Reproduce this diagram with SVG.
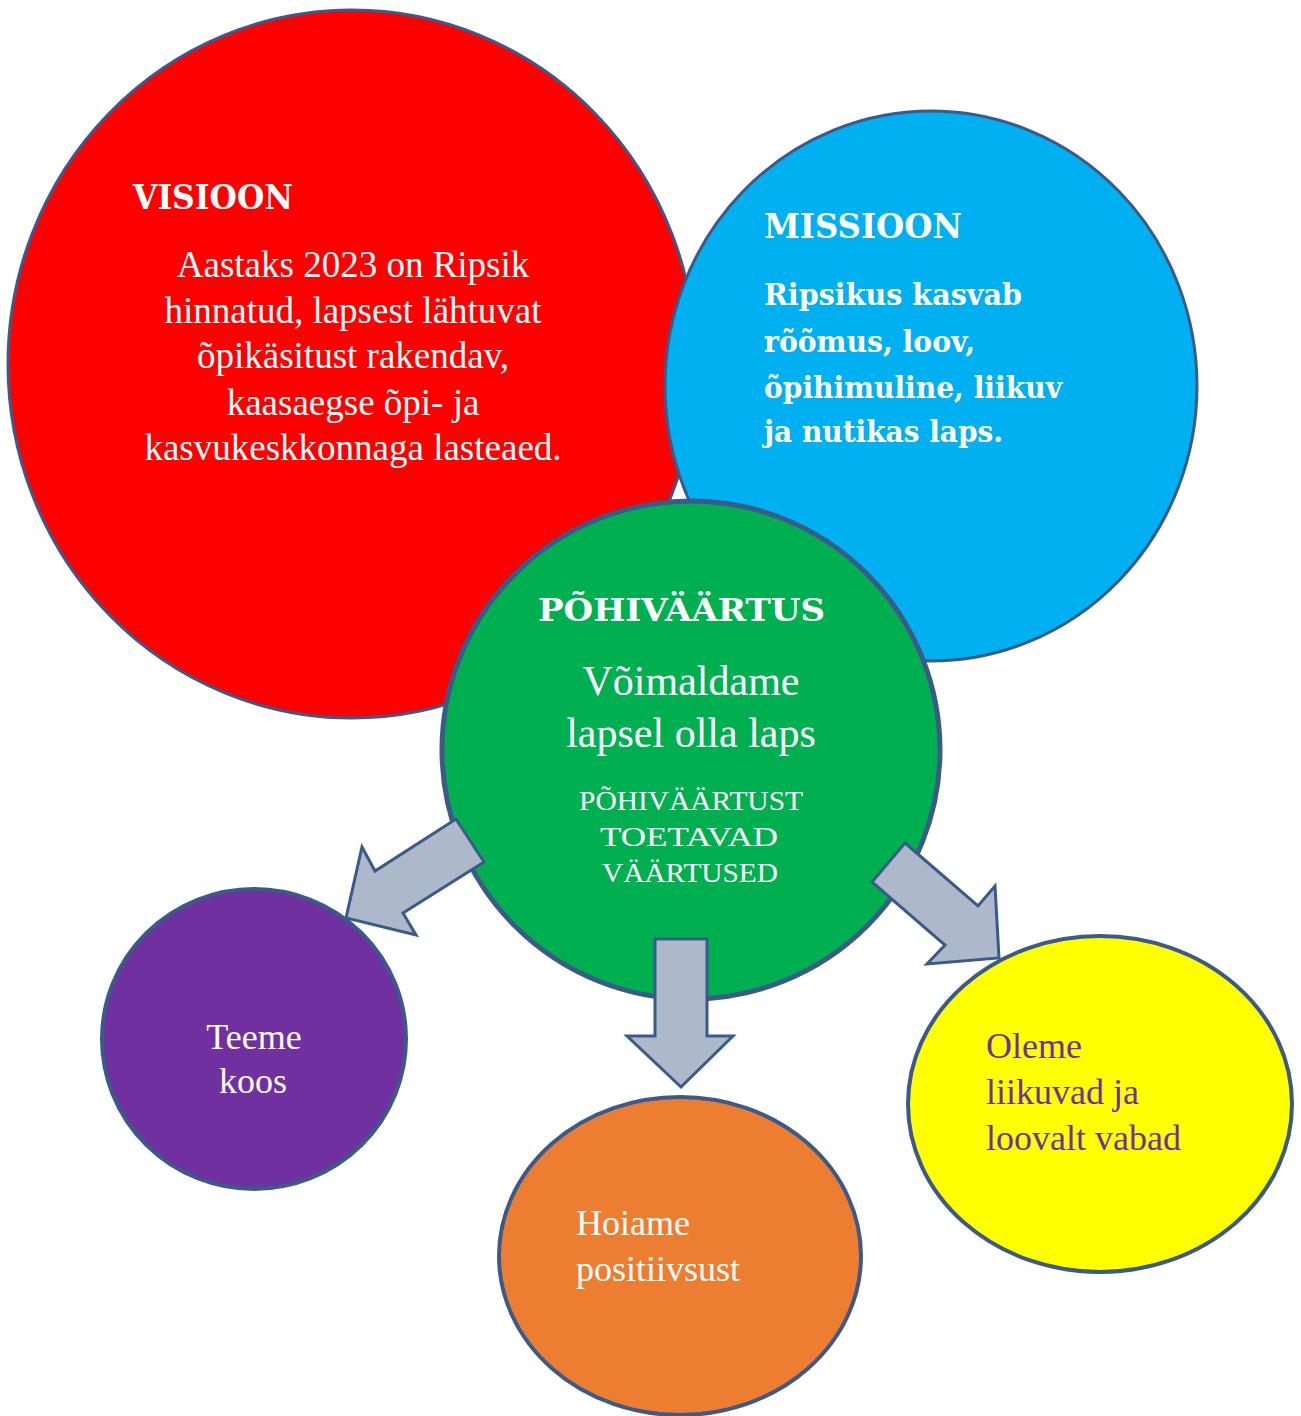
<svg xmlns="http://www.w3.org/2000/svg" width="1301" height="1416" viewBox="0 0 1301 1416">
<style>
.c{stroke:#3b5a8a;stroke-width:3}
.c4{stroke-width:4}
.c5{stroke-width:5}
.arr{fill:#adb9ca;stroke:#3b5a8a;stroke-width:3;stroke-linejoin:miter}
.h{font-family:"DejaVu Serif",serif;font-weight:bold;fill:#fff}
.t{font-family:"Liberation Serif","Times New Roman",serif;fill:#fff}
</style>
<rect width="1301" height="1416" fill="#fff"/>
<g id="visioon">
<ellipse class="c" cx="352" cy="364" rx="344" ry="354" fill="#ff0000"/>
<text class="h" x="133" y="209" font-size="33" textLength="160" lengthAdjust="spacingAndGlyphs">VISIOON</text>
<g class="t" font-size="37" text-anchor="middle">
<text x="353" y="277">Aastaks 2023 on Ripsik</text>
<text x="353" y="323">hinnatud, lapsest lähtuvat</text>
<text x="353" y="368">õpikäsitust rakendav,</text>
<text x="353" y="415">kaasaegse õpi- ja</text>
<text x="353" y="460">kasvukeskkonnaga lasteaed.</text>
</g>
</g>
<g id="missioon">
<ellipse class="c" cx="931" cy="386" rx="266" ry="275" fill="#00b0f0"/>
<text class="h" x="764" y="238" font-size="33" textLength="198" lengthAdjust="spacingAndGlyphs">MISSIOON</text>
<g class="h" font-size="29">
<text x="764" y="305" textLength="258" lengthAdjust="spacingAndGlyphs">Ripsikus kasvab</text>
<text x="764" y="352" textLength="211" lengthAdjust="spacingAndGlyphs">rõõmus, loov,</text>
<text x="764" y="398" textLength="298" lengthAdjust="spacingAndGlyphs">õpihimuline, liikuv</text>
<text x="764" y="442" textLength="239" lengthAdjust="spacingAndGlyphs">ja nutikas laps.</text>
</g>
</g>
<g id="pohivaartus">
<circle class="c c5" cx="691" cy="750" r="249" fill="#00b050"/>
<text class="h" x="538" y="621" font-size="31" textLength="287" lengthAdjust="spacingAndGlyphs">PÕHIVÄÄRTUS</text>
<g class="t" font-size="42" text-anchor="middle">
<text x="691" y="695">Võimaldame</text>
<text x="691" y="747">lapsel olla laps</text>
</g>
<g class="t" font-size="28" text-anchor="middle">
<text x="691" y="810" textLength="224" lengthAdjust="spacingAndGlyphs">PÕHIVÄÄRTUST</text>
<text x="689" y="846" textLength="178" lengthAdjust="spacingAndGlyphs">TOETAVAD</text>
<text x="690" y="882" textLength="176" lengthAdjust="spacingAndGlyphs">VÄÄRTUSED</text>
</g>
</g>
<g id="teeme-koos">
<ellipse class="c c4" cx="254" cy="1039" rx="152" ry="150" fill="#7030a0"/>
<g class="t" font-size="36" text-anchor="middle">
<text x="254" y="1049">Teeme</text>
<text x="253" y="1093">koos</text>
</g>
</g>
<g id="hoiame">
<ellipse class="c c4" cx="680" cy="1256" rx="181" ry="159" fill="#ed7d31"/>
<g class="t" font-size="36">
<text x="576" y="1235">Hoiame</text>
<text x="576" y="1281">positiivsust</text>
</g>
</g>
<g id="oleme">
<ellipse class="c c4" cx="1100" cy="1104" rx="192" ry="168" fill="#ffff00"/>
<g class="t" font-size="36" style="fill:#7030a0">
<text x="986" y="1058">Oleme</text>
<text x="986" y="1104">liikuvad ja</text>
<text x="986" y="1150">loovalt vabad</text>
</g>
</g>
<g id="connectors">
<polygon class="arr" points="456,819 484,862 403,913 416,935 346,918 362,847 375,871"/>
<polygon class="arr" points="655,939 707,939 707,1036 733,1036 681,1087 627,1036 655,1036"/>
<polygon class="arr" points="905,843 872,882 945,945 927,964 999,958 995,886 978,906"/>
</g>
</svg>
